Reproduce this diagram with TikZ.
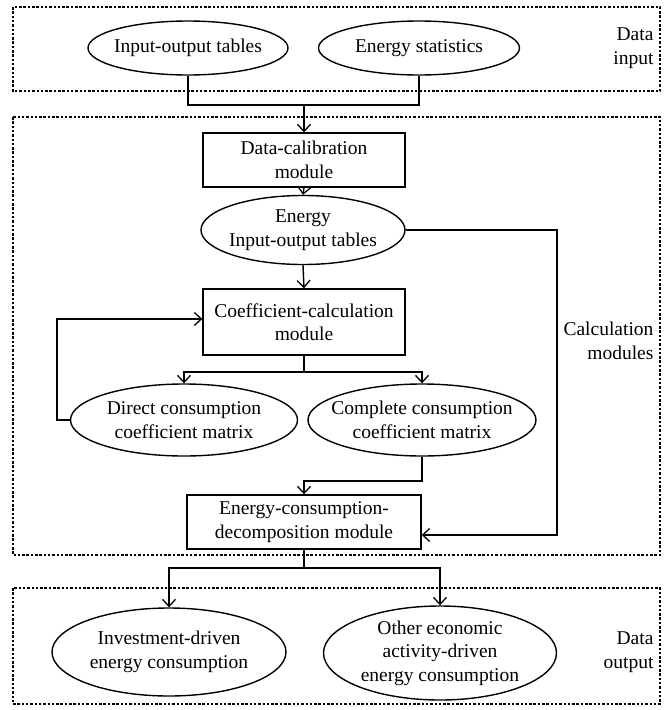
\documentclass[tikz,border=0pt]{standalone}
\usepackage{fontspec}
\setmainfont{Liberation Serif}
\usetikzlibrary{shapes.geometric,arrows.meta}
\begin{document}
\begin{tikzpicture}[x=1pt,y=-1pt,
  every node/.style={font=\fontsize{19.5}{23.5}\selectfont, align=center},
  ell/.style={draw, ellipse, line width=1.4pt, inner sep=0pt},
  boxnode/.style={draw, rectangle, line width=1.4pt, inner sep=0pt},
  grp/.style={draw, dash pattern=on 2.5pt off 1.8pt, line width=1.2pt},
  conn/.style={line width=1.4pt},
  arr/.style={conn, -{Straight Barb[length=7pt,width=13pt,line width=1.3pt]}},
  lab/.style={anchor=east, align=right}]
\useasboundingbox (0,0) rectangle (667,710);
% group frames
\draw[grp] (13,7) rectangle (660,91);
\draw[grp] (13,117) rectangle (660,555);
\draw[grp] (13,588) rectangle (660,704);
\node[lab] (lin) at (657,48) {Data\\input};
\node[lab] (lcalc) at (657,341) {Calculation\\modules};
\node[lab] (lout) at (657,652) {Data\\output};
% nodes
\node[ell, minimum width=200pt, minimum height=54pt, label={[align=center]center:Input-output tables}] (iot) at (188,48) {};
\node[ell, minimum width=201pt, minimum height=54pt, label={[align=center]center:Energy statistics}] (es) at (419,48) {};
\node[boxnode, minimum width=202pt, minimum height=54pt] (dc) at (304,160) {Data-calibration\\module};
\node[ell, minimum width=204pt, minimum height=69pt, label={[align=center]center:Energy\\Input-output tables}] (eiot) at (303,230) {};
\node[boxnode, minimum width=202pt, minimum height=66pt] (cc) at (304,322) {Coefficient-calculation\\module};
\node[ell, minimum width=227pt, minimum height=72pt, label={[align=center]center:Direct consumption\\coefficient matrix}] (dcm) at (184,420) {};
\node[ell, minimum width=228pt, minimum height=72pt, label={[align=center]center:Complete consumption\\coefficient matrix}] (ccm) at (422,420) {};
\node[boxnode, minimum width=234pt, minimum height=54pt] (ecd) at (304,522) {Energy-consumption-\\decomposition module};
\node[ell, minimum width=234pt, minimum height=88pt, label={[align=center]center:Investment-driven\\energy consumption}] (inv) at (169,652) {};
\node[ell, minimum width=233pt, minimum height=94pt, label={[align=center]center:Other economic\\activity-driven\\energy consumption}] (oth) at (440,653) {};
% connectors
\coordinate (j1) at (304,105);
\draw[conn] (iot.south) -- (188,105) -- (419,105) -- (es.south);
\draw[arr] (j1) -- (dc.north);
\draw[arr] (dc.south) -- (eiot.north);
\draw[arr] (eiot.south) -- (cc.north);
\coordinate (j2) at (304,372);
\draw[conn] (cc.south) -- (j2);
\draw[arr] (j2) -| (dcm.north);
\draw[arr] (j2) -| (ccm.north);
\draw[arr] (dcm.west) -- (57,420) -- (57,319) -- (cc.west |- 0,319);
\draw[arr] (ccm.south) -- (422,481) -- (304,481) -- (ecd.north);
\draw[arr] (eiot.east) -- (557,230) -- (557,535) -- (ecd.east |- 0,535);
\coordinate (j3) at (304,568);
\draw[conn] (ecd.south) -- (j3);
\draw[arr] (j3) -| (inv.north);
\draw[arr] (j3) -| (oth.north);
\end{tikzpicture}
\end{document}
